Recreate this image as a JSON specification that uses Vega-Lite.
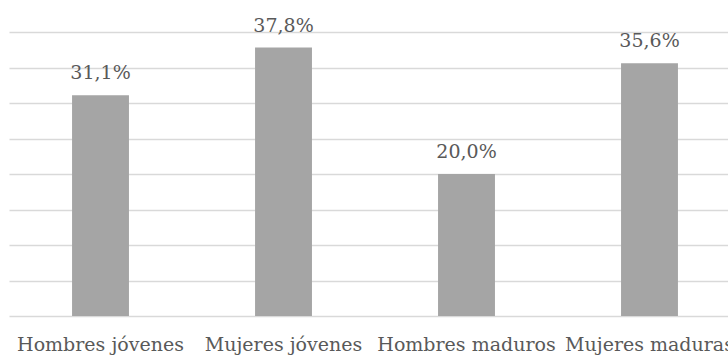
{
  "$schema": "https://vega.github.io/schema/vega-lite/v6.json",
  "width": 719,
  "height": 284,
  "autosize": {"type": "none"},
  "padding": {"left": 9, "top": 32, "right": 0, "bottom": 40},
  "background": "#ffffff",
  "config": {
    "view": {"stroke": null},
    "locale": {
      "number": {"decimal": ",", "thousands": ".", "grouping": [3], "currency": ["", " €"]}
    },
    "font": "DejaVu Serif"
  },
  "data": {
    "values": [
      {"grupo": "Hombres jóvenes", "porcentaje": 0.311},
      {"grupo": "Mujeres jóvenes", "porcentaje": 0.378},
      {"grupo": "Hombres maduros", "porcentaje": 0.200},
      {"grupo": "Mujeres maduras", "porcentaje": 0.356}
    ]
  },
  "encoding": {
    "x": {
      "field": "grupo",
      "type": "nominal",
      "sort": null,
      "scale": {"paddingInner": 0.689, "paddingOuter": 0.309, "align": 0.5575},
      "axis": {
        "title": null,
        "labelAngle": 0,
        "labelFont": "DejaVu Serif",
        "labelFontSize": 19,
        "labelColor": "#595959",
        "labelBaseline": "alphabetic",
        "labelPadding": 34,
        "labelLimit": 0,
        "labelOverlap": false,
        "ticks": false,
        "domain": false,
        "grid": false
      }
    },
    "y": {
      "field": "porcentaje",
      "type": "quantitative",
      "scale": {"domain": [0, 0.4], "nice": false},
      "axis": {
        "title": null,
        "values": [0, 0.05, 0.1, 0.15, 0.2, 0.25, 0.3, 0.35, 0.4],
        "labels": false,
        "ticks": false,
        "domain": false,
        "grid": true,
        "gridColor": "#d9d9d9",
        "gridWidth": 1.5
      }
    }
  },
  "layer": [
    {"mark": {"type": "bar", "color": "#a5a5a5"}},
    {
      "mark": {
        "type": "text",
        "baseline": "alphabetic",
        "align": "center",
        "dy": -16,
        "font": "DejaVu Serif",
        "fontSize": 19,
        "color": "#595959"
      },
      "encoding": {
        "text": {"field": "porcentaje", "type": "quantitative", "format": ".1%"}
      }
    }
  ]
}
